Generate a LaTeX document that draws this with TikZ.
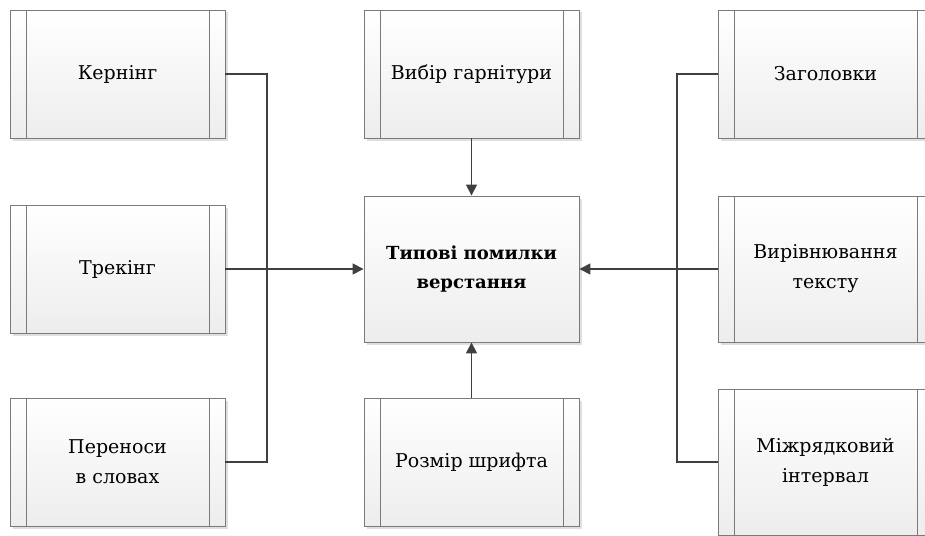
\documentclass[tikz,border=0pt]{standalone}
\usepackage{fontspec}
\setmainfont{DejaVu Serif}
\usetikzlibrary{arrows.meta,shadows}
\definecolor{edgegray}{HTML}{7A7A7A}
\definecolor{linkgray}{HTML}{404040}
\definecolor{fillbottom}{HTML}{EDEDED}
\tikzset{
  card/.style={rectangle, draw=edgegray, line width=0.9pt,
    top color=white, bottom color=fillbottom,
    minimum width=215pt, minimum height=128pt, inner sep=0pt,
    align=center, font=\fontsize{19}{30}\selectfont,
    drop shadow={shadow xshift=2.5pt, shadow yshift=-2.5pt, opacity=0.25, fill=gray}},
  barcard/.style={card,
    path picture={
      \draw[edgegray, line width=0.9pt]
        ([xshift=16pt]path picture bounding box.north west) -- ([xshift=16pt]path picture bounding box.south west)
        ([xshift=-16pt]path picture bounding box.north east) -- ([xshift=-16pt]path picture bounding box.south east);
    }},
  tall/.style={minimum height=146pt},
  link/.style={draw=linkgray, line width=1.6pt},
  feed/.style={link, -{Triangle[length=11pt,width=11pt]}},
}
\begin{document}
\begin{tikzpicture}[x=1pt, y=-1pt]
  \useasboundingbox (0,0) rectangle (925,535);
  \clip (0,0) rectangle (925,535);

  % left column
  \node[barcard] (kern) at (117.5,74) {Кернінг};
  \node[barcard] (trek) at (117.5,269) {Трекінг};
  \node[barcard] (pere) at (117.5,462) {Переноси\\в словах};

  % middle column
  \node[barcard] (vybir) at (471.5,74) {Вибір гарнітури};
  \node[card, tall, font=\fontsize{18}{29}\selectfont\bfseries] (main) at (471.5,269) {Типові помилки\\верстання};
  \node[barcard] (rozmir) at (471.5,462.5) {Розмір шрифта};

  % right column
  \node[barcard] (zag) at (825.5,74) {Заголовки};
  \node[barcard, tall] (vyr) at (825.5,269) {Вирівнювання\\тексту};
  \node[barcard, tall] (mizh) at (825.5,462) {Міжрядковий\\інтервал};

  % junctions of the side buses
  \coordinate (jl) at (267,269);
  \coordinate (jr) at (677,269);

  % left bus
  \draw[link] (kern.east) -| (jl);
  \draw[link] (pere.east) -| (jl);
  \draw[feed] (trek.east) -- (main.west);

  % right bus
  \draw[link] (zag.west) -| (jr);
  \draw[link] (mizh.west) -| (jr);
  \draw[feed] (vyr.west) -- (main.east);

  % vertical inputs
  \draw[feed] (vybir.south) -- (main.north);
  \draw[feed] (rozmir.north) -- (main.south);
\end{tikzpicture}
\end{document}
